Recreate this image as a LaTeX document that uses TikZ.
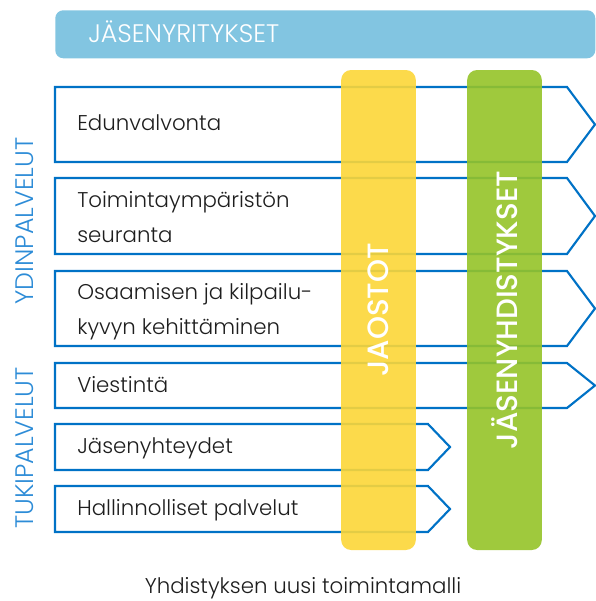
\documentclass[tikz,border=0pt]{standalone}
\usepackage{fontspec}
\setmainfont{Poppins}[UprightFont=* Light, BoldFont=* Medium]
\usepackage{xcolor}
\usepackage{tikz}
\usetikzlibrary{shapes}

\definecolor{ylapalkki}{RGB}{130,197,225}
\definecolor{viiva}{RGB}{0,114,198}
\definecolor{otsikko}{RGB}{45,140,215}
\definecolor{jaosto}{RGB}{252,214,55}
\definecolor{yhdistys}{RGB}{149,195,40}
\definecolor{teksti}{RGB}{30,30,30}

\begin{document}
\begin{tikzpicture}[x=0.75pt, y=-0.75pt]
\tikzstyle{palvelu} = [draw=viiva, line width=1.6pt, line join=miter]
\tikzstyle{nimi} = [anchor=base west, inner sep=0pt, text=teksti, font=\fontsize{16}{26.25}\selectfont, align=left]
\tikzstyle{pylvas} = [rotate=90, rounded corners=7.5pt, fill opacity=0.9, text opacity=1, text=white, minimum width=360pt, minimum height=56pt, inner sep=0pt, font=\fontsize{22}{26}\selectfont\bfseries]
\tikzstyle{ryhma} = [rotate=90, text=otsikko, inner sep=0pt, font=\fontsize{19}{22}\selectfont]
\useasboundingbox (0,0) rectangle (596,601);

% jasenyritykset
\node [fill=ylapalkki, rounded corners=6pt, minimum width=405pt, minimum height=36pt, anchor=north west, inner sep=0pt] (yritykset) at (55,10) {};
\node [anchor=base west, inner sep=0pt, text=white, font=\fontsize{19}{24}\selectfont] (yrityksetnimi) at (88,42) {JÄSENYRITYKSET};

% palvelut
\draw [palvelu] (55,87) -- (567,87) -- (595,124.5) -- (567,162) -- (55,162) -- cycle;
\draw [palvelu] (55,178) -- (567,178) -- (595,216) -- (567,254) -- (55,254) -- cycle;
\draw [palvelu] (55,271) -- (567,271) -- (595,308.5) -- (567,346) -- (55,346) -- cycle;
\draw [palvelu] (55,363) -- (567,363) -- (595,385.5) -- (567,408) -- (55,408) -- cycle;
\draw [palvelu] (55,424) -- (428,424) -- (450,447) -- (428,470) -- (55,470) -- cycle;
\draw [palvelu] (55,486) -- (428,486) -- (450,509) -- (428,532) -- (55,532) -- cycle;

% kaksirivisissa base = alemman rivin pohja
\node [nimi] (edunvalvonta) at (77,130) {Edunvalvonta};
\node [nimi] (seuranta) at (77,242) {Toimintaympäristön\\seuranta};
\node [nimi] (osaaminen) at (77,334) {Osaamisen ja kilpailu-\\kyvyn kehittäminen};
\node [nimi] (viestinta) at (77,392) {Viestintä};
\node [nimi] (jasenyhteydet) at (77,453) {Jäsenyhteydet};
\node [nimi] (hallinto) at (77,515) {Hallinnolliset palvelut};

% pylvaat
\node [pylvas, fill=jaosto] (jaostot) at (378.5,310) {JAOSTOT};
\node [pylvas, fill=yhdistys] (yhdistykset) at (504.5,310) {JÄSENYHDISTYKSET};

% ryhmat
\node [ryhma] (ydin) at (25,221) {YDINPALVELUT};
\node [ryhma] (tuki) at (25,448) {TUKIPALVELUT};

\node [anchor=base, inner sep=0pt, text=teksti, font=\fontsize{16}{20}\selectfont] (malli) at (303,593) {Yhdistyksen uusi toimintamalli};
\end{tikzpicture}
\end{document}
